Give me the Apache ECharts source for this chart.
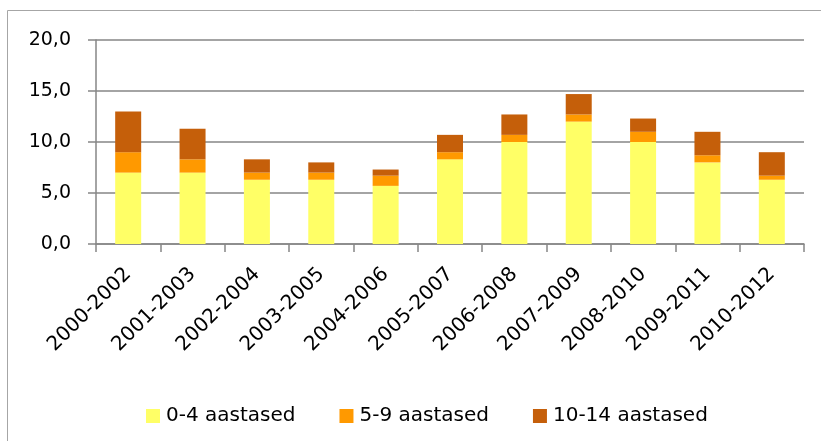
<!DOCTYPE html>
<html>
<head>
<meta charset="utf-8">
<script src="https://cdn.jsdelivr.net/npm/echarts@6/dist/echarts.min.js"></script>
<style>
  html, body { margin: 0; padding: 0; background: #fff; }
  #chart { width: 821px; height: 441px; }
</style>
</head>
<body>
<div id="chart"></div>
<script>
// Periods (three-year windows)
var periods = ['2000-2002', '2001-2003', '2002-2004', '2003-2005', '2004-2006', '2005-2007',
               '2006-2008', '2007-2009', '2008-2010', '2009-2011', '2010-2012'];

// Age groups, stacked from the bottom up
var age0to4   = [7.0, 7.0, 6.3, 6.3, 5.7, 8.3, 10.0, 12.0, 10.0, 8.0, 6.3];
var age5to9   = [2.0, 1.3, 0.7, 0.7, 1.0, 0.7, 0.7, 0.7, 1.0, 0.7, 0.4];
var age10to14 = [4.0, 3.0, 1.3, 1.0, 0.6, 1.7, 2.0, 2.0, 1.3, 2.3, 2.3];

var seriesNames = ['0-4 aastased', '5-9 aastased', '10-14 aastased'];

// Value axis
var yMin = 0, yMax = 20, yStep = 5;

var FONT = 'DejaVu Sans';
var AXIS_GREY = '#868686';

var chart = echarts.init(document.getElementById('chart'), null, { renderer: 'canvas' });

function bar(name, data, color) {
  return {
    name: name,
    type: 'bar',
    stack: 'total',
    barWidth: 26,
    data: data,
    itemStyle: { color: color },
    emphasis: { disabled: true }
  };
}

chart.setOption({
  animation: false,
  backgroundColor: '#fff',
  graphic: [{
    type: 'rect',
    silent: true,
    shape: { x: 7.5, y: 10.5, width: 1000, height: 1000 },
    style: { fill: 'none', stroke: '#a6a6a6', lineWidth: 1 }
  }],
  grid: { left: 96, right: 17, top: 40, height: 204, containLabel: false },
  legend: {
    left: 141,
    top: 401,
    itemWidth: 14,
    itemHeight: 14,
    itemGap: 44,
    icon: 'rect',
    textStyle: { fontFamily: FONT, fontSize: 20, color: '#000', padding: [0, 0, 0, 1] },
    data: seriesNames
  },
  xAxis: {
    type: 'category',
    data: periods,
    boundaryGap: true,
    axisLine: { lineStyle: { color: AXIS_GREY, width: 1.5 } },
    axisTick: { show: true, length: 8, lineStyle: { color: AXIS_GREY, width: 1.5 } },
    axisLabel: {
      interval: 0,
      rotate: 45,
      margin: 27,
      fontFamily: FONT,
      fontSize: 20,
      color: '#000'
    }
  },
  yAxis: {
    type: 'value',
    min: yMin,
    max: yMax,
    interval: yStep,
    axisLine: { show: true, lineStyle: { color: AXIS_GREY, width: 1.5 } },
    axisTick: { show: true, length: 8, lineStyle: { color: AXIS_GREY, width: 1.5 } },
    splitLine: { show: true, lineStyle: { color: AXIS_GREY, width: 1.5 } },
    axisLabel: {
      margin: 25,
      fontFamily: FONT,
      fontSize: 19,
      color: '#000',
      formatter: function (v) { return v.toFixed(1).replace('.', ','); }
    }
  },
  series: [
    bar(seriesNames[0], age0to4, '#FFFF66'),
    bar(seriesNames[1], age5to9, '#FF9900'),
    bar(seriesNames[2], age10to14, '#C55F0A')
  ]
});
</script>
</body>
</html>
